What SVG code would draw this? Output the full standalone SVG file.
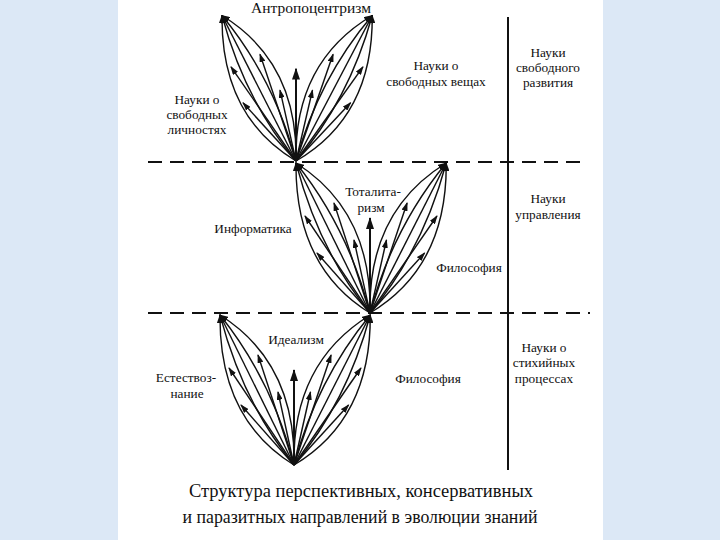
<svg xmlns="http://www.w3.org/2000/svg" xmlns:xlink="http://www.w3.org/1999/xlink" width="720" height="540" viewBox="0 0 720 540">
<style>
.bg{fill:#dce8f6}
.panel{fill:#ffffff}
.ln{fill:none;stroke:#111111;stroke-width:1.4}
.ar{marker-end:url(#ah)}
.ctr{fill:none;stroke:#111111;stroke-width:2;marker-end:url(#ahBig)}
.dash{fill:none;stroke:#111111;stroke-width:2;stroke-dasharray:14 8}
.solid{fill:none;stroke:#111111;stroke-width:2}
text{font-family:"Liberation Serif","Times New Roman",serif;fill:#111111;font-size:13.3px;text-anchor:middle}
.cap{font-size:18.5px}
.big{font-size:15px}
</style>
<defs>
<marker id="ah" markerUnits="userSpaceOnUse" markerWidth="9" markerHeight="6" refX="8" refY="3" orient="auto">
<path d="M0,0 L9,3 L0,6 z" fill="#111111"/>
</marker>
<marker id="ahBig" markerUnits="userSpaceOnUse" markerWidth="12" markerHeight="8" refX="11" refY="4" orient="auto">
<path d="M0,0 L12,4 L0,8 z" fill="#111111"/>
</marker>
<g id="leaf">
<path class="ln ar" d="M0,0 Q-75,-46 -74,-150"/>
<path class="ln ar" d="M0,0 Q2,-102 -74,-150"/>
<path class="ln ar" d="M0,0 Q-51,-62 -74,-150"/>
<path class="ln ar" d="M0,0 Q-37,-75 -74,-150"/>
<path class="ln ar" d="M0,0 Q-22,-85 -74,-150"/>
<path class="ln ar" d="M0,0 L-53,-60"/>
<path class="ln ar" d="M0,0 L-65,-97"/>
<path class="ln ar" d="M0,0 L-16,-73"/>
<path class="ln ar" d="M0,0 L-36,-110"/>
</g>
<g id="fanShape">
<use xlink:href="#leaf"/>
<use xlink:href="#leaf" transform="scale(-1.03,1)"/>
<path class="ctr" d="M0,0 L0,-95"/>
</g>
</defs>
<rect class="bg" x="0" y="0" width="720" height="540"/>
<rect class="panel" x="118" y="0" width="485" height="540"/>

<g id="connectors">
<path class="dash" d="M148,162 L588,162"/>
<path class="dash" d="M148,313 L590,313"/>
<path class="solid" d="M508,17 L508,470"/>
</g>

<g id="fan-top">
<use xlink:href="#fanShape" transform="translate(296,161) scale(1,0.97)"/>
</g>
<g id="fan-middle">
<use xlink:href="#fanShape" transform="translate(370,313)"/>
</g>
<g id="fan-bottom">
<use xlink:href="#fanShape" transform="translate(294,465)"/>
</g>

<g id="label-anthropocentrism"><text class="big" x="311" y="13" textLength="120" lengthAdjust="spacingAndGlyphs">Антропоцентризм</text></g>
<g id="label-free-things"><text x="436" y="70">Науки о</text><text x="436" y="86">свободных вещах</text></g>
<g id="label-free-development"><text x="548" y="57">Науки</text><text x="548" y="72">свободного</text><text x="548" y="87">развития</text></g>
<g id="label-free-persons"><text x="197" y="104">Науки о</text><text x="197" y="119">свободных</text><text x="197" y="134">личностях</text></g>
<g id="label-totalitarianism"><text x="373" y="196">Тоталита-</text><text x="371" y="212">ризм</text></g>
<g id="label-informatics"><text x="253" y="233">Информатика</text></g>
<g id="label-management"><text x="548" y="203">Науки</text><text x="548" y="219">управления</text></g>
<g id="label-philosophy-1"><text x="469" y="272">Философия</text></g>
<g id="label-idealism"><text x="296" y="344">Идеализм</text></g>
<g id="label-natural-science"><text x="186" y="382">Естествоз-</text><text x="187" y="398">нание</text></g>
<g id="label-philosophy-2"><text x="428" y="383">Философия</text></g>
<g id="label-spontaneous"><text x="544" y="352">Науки о</text><text x="544" y="367">стихийных</text><text x="544" y="383">процессах</text></g>
<g id="caption"><text class="cap" x="361" y="497">Структура перспективных, консервативных</text><text class="cap" x="360" y="523" textLength="355" lengthAdjust="spacingAndGlyphs">и паразитных направлений в эволюции знаний</text></g>
</svg>
